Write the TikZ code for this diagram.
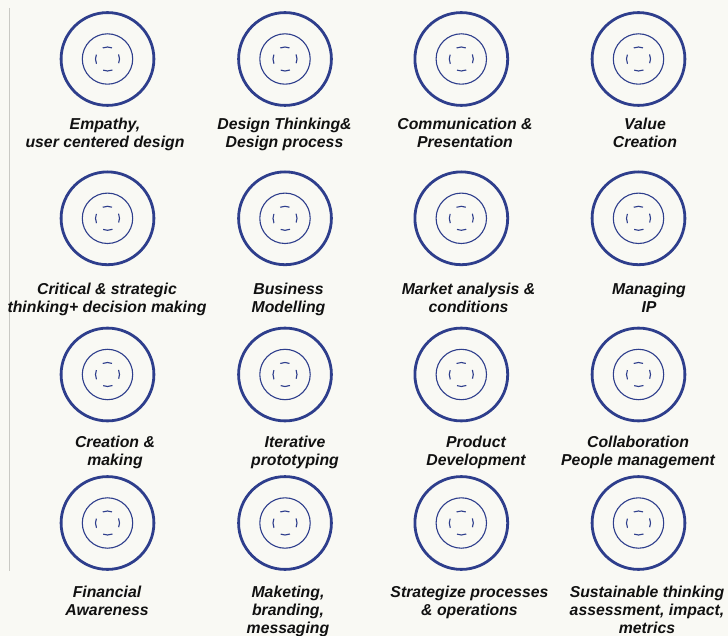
\documentclass[tikz,border=0pt]{standalone}
\usepackage{fontspec}
\setmainfont{Liberation Sans}
\usetikzlibrary{positioning}
\definecolor{ringblue}{HTML}{2E3E8C}
\definecolor{paper}{HTML}{F9F9F4}
\definecolor{rulegray}{HTML}{C9C9C4}
\definecolor{inkblack}{HTML}{111111}
\tikzset{
  outer ring/.style={circle, draw=ringblue, line width=2.8pt, minimum size=92.8pt, inner sep=0pt},
  mid ring/.style={draw=ringblue, line width=1.1pt},
  dash ring/.style={draw=ringblue, line width=1.1pt, dash pattern=on 9.42pt off 9.42pt, dash phase=4.71pt},
  skill/.style={font=\fontsize{15.8}{18.3}\selectfont\bfseries\itshape, text=inkblack, align=center, inner sep=0pt, anchor=base}
}

\begin{document}
\begin{tikzpicture}[x=1pt,y=-1pt]
\fill[paper] (0,0) rectangle (728,636);
\useasboundingbox (0,0) rectangle (728,636);
\coordinate (rule top) at (9.5,8); \coordinate (rule end) at (9.5,571);
\draw[rulegray, line width=1pt] (rule top)--(rule end);
% rings
\foreach \r/\y in {1/59,2/218.3,3/374.5,4/523}{
  \foreach \c/\x in {1/107.5,2/285,3/461.3,4/638.5}{
    \node[outer ring] (ring\r\c) at (\x,\y) {};
    \draw[mid ring] (ring\r\c.center) circle[radius=25.2pt];
    \draw[dash ring] (ring\r\c.center) circle[radius=12pt];
  }
}
% labels (y = baseline of the last line)
\foreach \n/\x/\y/\txt in {
  11/105/148/{Empathy,\\user centered design},
  12/284.5/148/{Design Thinking\&\\Design process},
  13/465/148/{Communication \&\\Presentation},
  14/645/148/{Value\\Creation},
  21/107/312.5/{Critical \& strategic\\thinking+ decision making},
  22/288.5/312.5/{Business\\Modelling},
  23/468.5/312.5/{Market analysis \&\\conditions},
  24/649/312.5/{Managing\\IP},
  31/115/465.7/{Creation \&\\making},
  32/295/465.7/{Iterative\\prototyping},
  33/476/465.7/{Product\\Development},
  34/638/465.7/{Collaboration\\People management},
  41/107/615.3/{Financial\\Awareness},
  42/288/633.6/{Maketing,\\branding,\\messaging},
  43/469.5/615.3/{Strategize processes\\\& operations},
  44/647/633.6/{Sustainable thinking\\assessment, impact,\\metrics}%
}{\node[skill] (label\n) at (\x,\y) {\txt};}
\end{tikzpicture}
\end{document}
